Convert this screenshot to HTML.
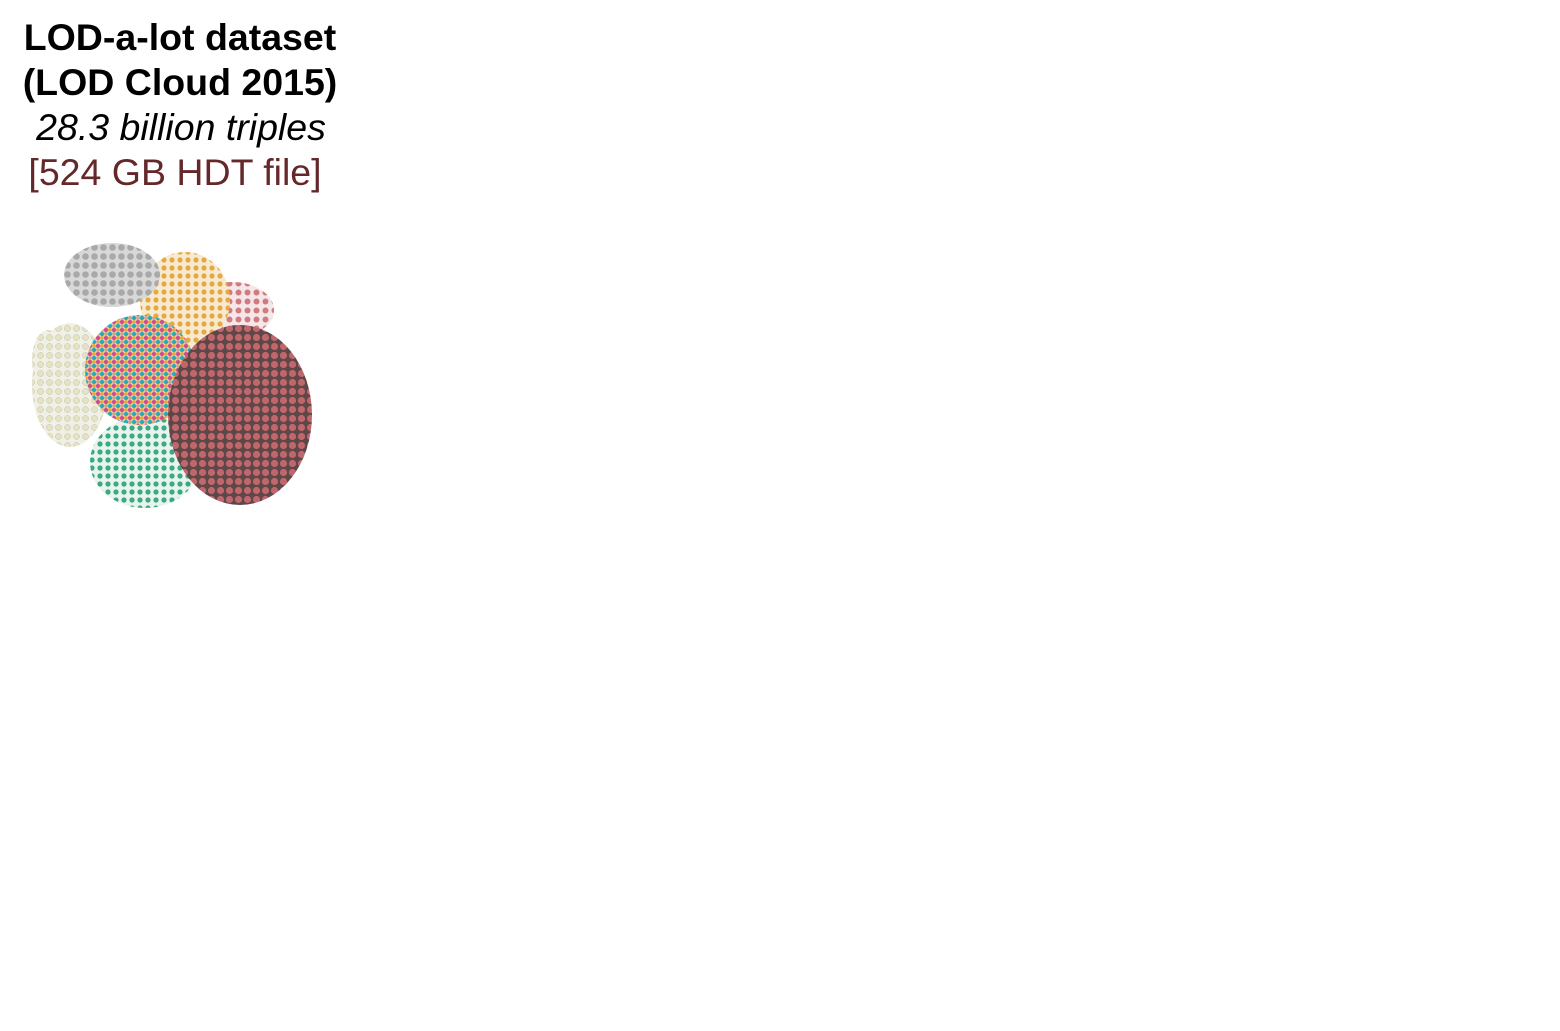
<!DOCTYPE html>
<html><head><style>
body{margin:0;width:1560px;height:1031px;background:#fff;overflow:hidden;font-family:"Liberation Sans",Arial,sans-serif;position:relative}
.t{position:absolute;left:0;width:360px;text-align:center;font-size:37.5px;line-height:45px}
</style></head><body>
<div class="t" style="top:15px;font-weight:bold">LOD-a-lot dataset</div>
<div class="t" style="top:60px;font-weight:bold">(LOD Cloud 2015)</div>
<div class="t" style="top:105px;font-style:italic;left:1px">28.3 billion triples</div>
<div class="t" style="top:150px;color:#65282a;left:-5px">[524 GB HDT file]</div>
<svg width="1560" height="1031" style="position:absolute;left:0;top:0">
<defs>
<pattern id="pg" width="9" height="9" patternUnits="userSpaceOnUse"><rect width="9" height="9" fill="#d8d8d8"/><circle cx="4.5" cy="4.5" r="3.3" fill="#a9a9a9"/></pattern>
<pattern id="po" width="8" height="8" patternUnits="userSpaceOnUse"><rect width="8" height="8" fill="#f6ead2"/><circle cx="4" cy="4" r="2.6" fill="#e7a93f"/></pattern>
<pattern id="pc" width="9" height="9" patternUnits="userSpaceOnUse"><rect width="9" height="9" fill="#f1f0e4"/><circle cx="4.5" cy="4.5" r="3" fill="#e6e3bf" stroke="#bbb" stroke-width=".5"/></pattern>
<pattern id="pm" width="8" height="8" patternUnits="userSpaceOnUse"><rect width="8" height="8" fill="#efe4d0"/><circle cx="2" cy="2" r="2.2" fill="#cc4f8c"/><circle cx="6" cy="6" r="2.2" fill="#2aa9b6"/><circle cx="6" cy="2" r="2" fill="#e7a93f"/><circle cx="2" cy="6" r="2" fill="#c9a88e"/></pattern>
<pattern id="pgr" width="8" height="8" patternUnits="userSpaceOnUse"><rect width="8" height="8" fill="#e8f3ee"/><circle cx="4" cy="4" r="2.6" fill="#3aa880"/></pattern>
<pattern id="pr" width="9" height="9" patternUnits="userSpaceOnUse"><rect width="9" height="9" fill="#5e4747"/><circle cx="4.5" cy="4.5" r="3.6" fill="#c0666c"/></pattern>
<pattern id="prl" width="9" height="9" patternUnits="userSpaceOnUse"><rect width="9" height="9" fill="#f5e6e7"/><circle cx="4.5" cy="4.5" r="3" fill="#d07b82"/></pattern>
</defs>
<ellipse cx="232" cy="310" rx="42" ry="28" fill="url(#prl)"/>
<ellipse cx="185" cy="300" rx="45" ry="48" fill="url(#po)"/>
<ellipse cx="112" cy="275" rx="48" ry="32" fill="url(#pg)"/>
<ellipse cx="70" cy="385" rx="38" ry="62" fill="url(#pc)"/>
<ellipse cx="145" cy="462" rx="55" ry="46" fill="url(#pgr)"/>
<ellipse cx="140" cy="370" rx="55" ry="55" fill="url(#pm)"/>
<ellipse cx="48" cy="360" rx="16" ry="30" fill="url(#pc)"/>
<ellipse cx="240" cy="415" rx="72" ry="90" fill="url(#pr)"/>
</svg>
</body></html>
